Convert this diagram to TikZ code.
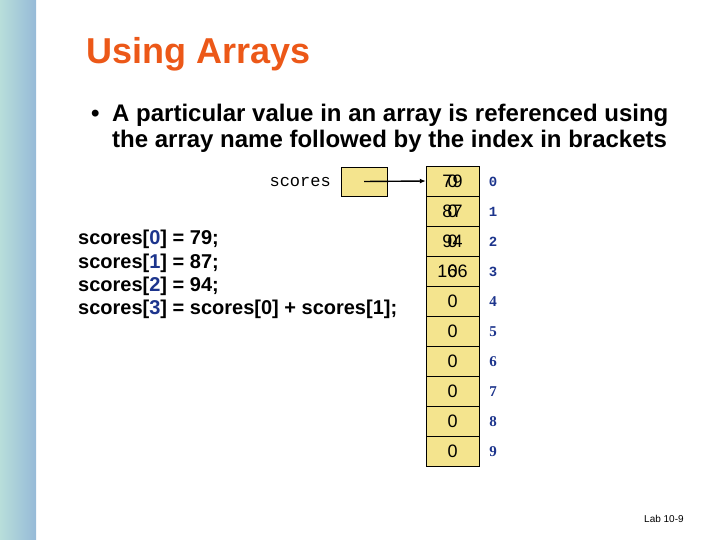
\documentclass[tikz,border=0pt]{standalone}
\usepackage{fontspec}
\setmainfont{Liberation Sans}
\newfontfamily\monofont{Liberation Mono}
\newfontfamily\idxserif{Liberation Serif}
\usetikzlibrary{positioning, arrows.meta}
\definecolor{slideorange}{RGB}{236,88,24}
\definecolor{cellyellow}{RGB}{244,228,142}
\definecolor{idxblue}{RGB}{28,52,140}
\definecolor{stripleft}{RGB}{184,222,218}
\definecolor{stripright}{RGB}{150,186,216}
\newcommand{\ix}[1]{[\textcolor{idxblue}{#1}]}

\begin{document}
\begin{tikzpicture}[x=1pt,y=-1pt,cell/.style={draw=black,fill=cellyellow,minimum width=53pt,minimum height=30pt,inner sep=0pt},ref/.style={draw=black,fill=cellyellow,minimum width=46pt,minimum height=29pt,inner sep=0pt},val/.style={font=\fontsize{18}{18}\selectfont,inner sep=0pt},idx/.style={text=idxblue,font=\monofont\bfseries\fontsize{14}{14}\selectfont,inner sep=0pt},idxs/.style={text=idxblue,font=\idxserif\bfseries\fontsize{15}{15}\selectfont,inner sep=0pt},code/.style={anchor=base west,inner sep=0pt,font=\bfseries\fontsize{20}{20}\selectfont},bullet/.style={anchor=base west,inner sep=0pt,font=\bfseries\fontsize{24}{24}\selectfont},arrow/.style={line width=1.4pt,-{Latex[length=6pt,width=5pt]}}]
\useasboundingbox (0,0) rectangle (720,540);
\shade[left color=stripleft,right color=stripright] (0,0) rectangle (36,540);
\node[anchor=base west,inner sep=0pt,text=slideorange,font=\bfseries\fontsize{36}{36}\selectfont] (title) at (86,64) {Using Arrays};
\node[bullet] (bul) at (91,121.5) {\textbullet};
\node[bullet] (l1) at (112,121.5) {A particular value in an array is referenced using};
\node[bullet] (l2) at (112,147.5) {the array name followed by the index in brackets};
% array reference and its cells
\node[anchor=base east,inner sep=0pt,font=\monofont\fontsize{17}{17}\selectfont] (name) at (331,187) {scores};
\node[ref] (box) at (364,181.5) {};
\foreach \i in {0,...,9} \node[cell] (c\i) at (452.5,181+30*\i) {};
\foreach \i in {0,...,3} \node[idx] (i\i) at (493,182+30*\i) {\i};
\foreach \i in {4,...,9} \node[idxs] (i\i) at (493,182+30*\i) {\i};
\foreach \i in {0,...,9} \node[val] (z\i) at (c\i) {0};
\node[val] (v0) at (c0) {79};\node[val] (v1) at (c1) {87};\node[val] (v2) at (c2) {94};\node[val] (v3) at (c3) {166};
\coordinate (tail) at (box.center);
\draw[arrow] (tail) -- (c0.west);
% statements
\node[code] (s0) at (78,244) {scores\ix{0} = 79;};
\node[code] (s1) at (78,268) {scores\ix{1} = 87;};
\node[code] (s2) at (78,291) {scores\ix{2} = 94;};
\node[code] (s3) at (78,314) {scores\ix{3} = scores[0] + scores[1];};
\node[anchor=base west,inner sep=0pt,font=\fontsize{10}{10}\selectfont] (lab) at (644,522) {Lab 10-9};
\end{tikzpicture}
\end{document}
